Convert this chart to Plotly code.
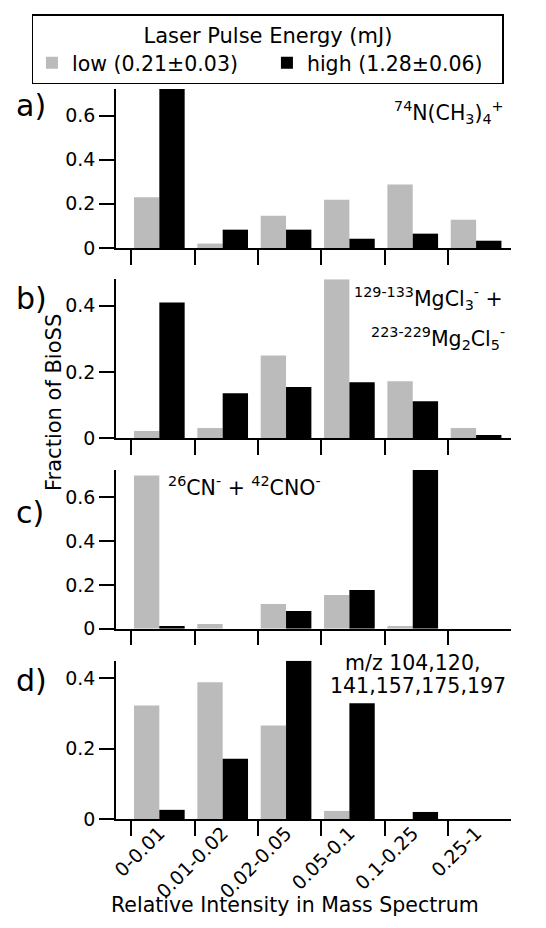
import plotly.graph_objects as go

# ---------------- data ----------------
categories = ["0-0.01", "0.01-0.02", "0.02-0.05", "0.05-0.1", "0.1-0.25", "0.25-1"]
series_names = ["low (0.21\u00b10.03)", "high (1.28\u00b10.06)"]

a_low = [0.23, 0.02, 0.146, 0.219, 0.287, 0.128]
a_high = [0.72, 0.083, 0.083, 0.042, 0.065, 0.033]
b_low = [0.022, 0.031, 0.25, 0.48, 0.172, 0.031]
b_high = [0.41, 0.136, 0.155, 0.169, 0.112, 0.01]
c_low = [0.70, 0.021, 0.113, 0.154, 0.012, 0.0]
c_high = [0.012, 0.0, 0.081, 0.177, 0.725, 0.0]
d_low = [0.323, 0.389, 0.266, 0.023, 0.0, 0.0]
d_high = [0.026, 0.171, 0.45, 0.329, 0.02, 0.0]

y_max = [0.72, 0.48, 0.725, 0.45]
panel_letters = ["a)", "b)", "c)", "d)"]

# ---------------- style ----------------
FONT = "DejaVu Sans"
GRAY = "#BBBBBB"
BLACK = "#000000"
W, H = 546, 928
PL, PR = 116.0, 510.7          # plot area left/right (px)
PT, PB = 89.0, 819.0           # plot area top/bottom (px)
PH = PB - PT
PW = PR - PL
panels_px = [(89.0, 248.0), (279.3, 438.3), (470.0, 628.7), (660.7, 819.0)]
TICK_OFF = -0.442               # category boundary tick offset
XR = [-0.684, 5.551]


def px_x(px):
    return (px - PL) / PW


def px_y(py):
    return (PB - py) / PH


fig = go.Figure()
xs = list(range(len(categories)))
data = [(a_low, a_high), (b_low, b_high), (c_low, c_high), (d_low, d_high)]

for i, (lo, hi) in enumerate(data):
    n = "" if i == 0 else str(i + 1)
    fig.add_trace(go.Bar(x=xs, y=lo, name=series_names[0], marker=dict(color=GRAY, line=dict(width=0)),
                         xaxis="x" + n, yaxis="y" + n, showlegend=(i == 0), legendgroup="low"))
    fig.add_trace(go.Bar(x=xs, y=hi, name=series_names[1], marker=dict(color=BLACK, line=dict(width=0)),
                         xaxis="x" + n, yaxis="y" + n, showlegend=(i == 0), legendgroup="high"))

layout = dict(
    width=W, height=H,
    margin=dict(l=PL, r=W - PR, t=PT, b=H - PB, pad=0, autoexpand=False),
    paper_bgcolor="white", plot_bgcolor="white",
    barmode="group", bargap=0.2, bargroupgap=0.0,
    font=dict(family=FONT, size=19, color="black"),
    showlegend=True,
    legend=dict(
        orientation="h",
        x=px_x(32), xanchor="left",
        y=px_y(14), yanchor="top",
        bordercolor="black", borderwidth=1.5,
        bgcolor="white",
        font=dict(family=FONT, size=20.5, color="black"),
        title=dict(text="Laser Pulse Energy (mJ)", side="top center",
                   font=dict(family=FONT, size=21, color="black")),
        entrywidth=190, entrywidthmode="pixels",
        itemwidth=30, tracegroupgap=0,
    ),
)

for i, (top, bot) in enumerate(panels_px):
    n = "" if i == 0 else str(i + 1)
    layout["xaxis" + n] = dict(
        domain=[0, 1], anchor="y" + n, range=XR,
        showline=True, linecolor="black", linewidth=1.5,
        tickmode="array", tickvals=xs, ticktext=categories,
        showticklabels=(i == 3), tickangle=-45, ticks="",
        ticklabelstandoff=-6,
        tickfont=dict(family=FONT, size=19),
        minor=dict(tickmode="array", tickvals=[k + TICK_OFF for k in range(len(categories) + 1)],
                   ticks="outside", ticklen=15, tickwidth=1.5, tickcolor="black", showgrid=False),
        showgrid=False, zeroline=False, fixedrange=True,
    )
    layout["yaxis" + n] = dict(
        domain=[px_y(bot), px_y(top)], anchor="x" + n, range=[0, y_max[i]],
        showline=True, linecolor="black", linewidth=1.5,
        ticks="outside", ticklen=15, tickwidth=1.5, tickcolor="black",
        dtick=0.2, tick0=0, tickfont=dict(family=FONT, size=19),
        showgrid=False, zeroline=False, fixedrange=True,
    )

fig.update_layout(**layout)

ann = []
letter_y = [106, 298, 512, 680]
for i, lt in enumerate(panel_letters):
    ann.append(dict(text=lt, x=px_x(14), y=px_y(letter_y[i]), xref="paper", yref="paper",
                    xanchor="left", yanchor="middle", showarrow=False,
                    font=dict(family=FONT, size=30, color="black")))

labels = [
    ("<sup>74</sup>N(CH<sub>3</sub>)<sub>4</sub><sup>+</sup>", 506, 113, "right"),
    ("<sup>129-133</sup>MgCl<sub>3</sub><sup>-</sup> +", 505, 298, "right"),
    ("<sup>223-229</sup>Mg<sub>2</sub>Cl<sub>5</sub><sup>-</sup>", 507, 338, "right"),
    ("<sup>26</sup>CN<sup>-</sup> + <sup>42</sup>CNO<sup>-</sup>", 166, 486, "left"),
    ("m/z 104,120,", 412, 663, "center"),
    ("141,157,175,197", 418, 686, "center"),
]
for t, x, y, xa in labels:
    ann.append(dict(text=t, x=px_x(x), y=px_y(y), xref="paper", yref="paper",
                    xanchor=xa, yanchor="middle", showarrow=False,
                    font=dict(family=FONT, size=20.5, color="black")))

ann.append(dict(text="Fraction of BioSS", x=px_x(54), y=px_y(402), xref="paper", yref="paper",
                xanchor="center", yanchor="middle", textangle=-90, showarrow=False,
                font=dict(family=FONT, size=21, color="black")))
ann.append(dict(text="Relative Intensity in Mass Spectrum", x=px_x(295), y=px_y(905), xref="paper", yref="paper",
                xanchor="center", yanchor="middle", showarrow=False,
                font=dict(family=FONT, size=20.5, color="black")))

fig.update_layout(annotations=ann)
fig.write_html("out.html")
